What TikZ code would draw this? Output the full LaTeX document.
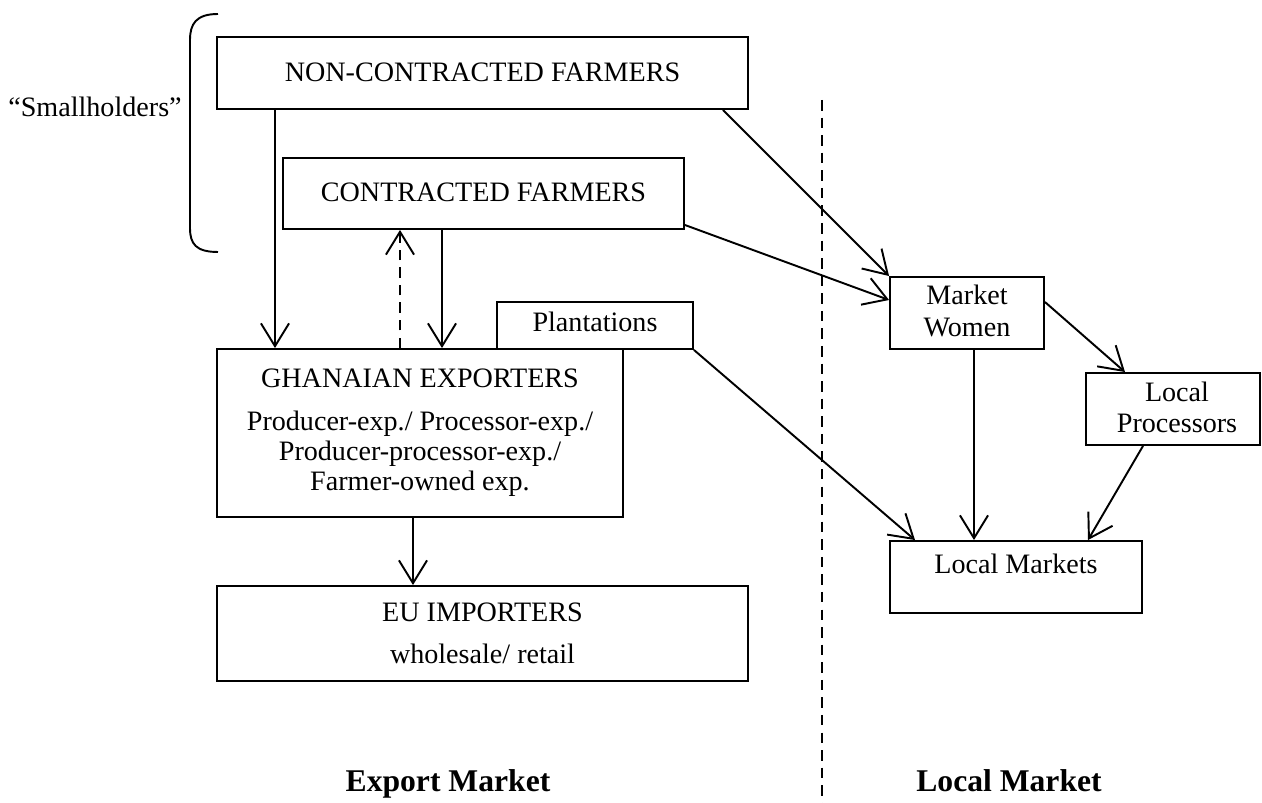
\documentclass[tikz,border=0pt]{standalone}
\usepackage{fontspec}
\setmainfont{Liberation Serif}
\usepackage{tikz}
\usetikzlibrary{arrows.meta}
\tikzset{
  box/.style={draw, line width=1.1pt, rectangle, inner sep=0pt},
  lbl/.style={font=\fontsize{16}{19}\selectfont, anchor=base, inner sep=0pt},
  head/.style={font=\fontsize{18}{21}\selectfont\bfseries, anchor=base, inner sep=0pt},
  arr/.style={line width=1.1pt, -{Straight Barb[length=13pt,width=16pt,line width=1.1pt]}},
  darr/.style={arr, dash pattern=on 6pt off 4pt},
  divider/.style={line width=1pt, dash pattern=on 6pt off 4pt}
}

\begin{document}
\begin{tikzpicture}[x=0.02cm, y=-0.02cm]
  \useasboundingbox (0,0) rectangle (1262,803);

  % boxes
  \node[box, minimum width=10.62cm, minimum height=1.44cm] (ncf) at (482.5,73) {};
  \node[box, minimum width=8.02cm, minimum height=1.42cm] (cf) at (483.5,193.5) {};
  \node[box, minimum width=8.12cm, minimum height=3.36cm] (ge) at (420,433) {};
  \node[box, minimum width=3.92cm, minimum height=0.94cm] (pl) at (595,325.5) {};
  \node[box, minimum width=10.62cm, minimum height=1.9cm] (eu) at (482.5,633.5) {};
  \node[box, minimum width=3.08cm, minimum height=1.44cm] (mw) at (967,313) {};
  \node[box, minimum width=3.48cm, minimum height=1.44cm] (lp) at (1173,409) {};
  \node[box, minimum width=5.04cm, minimum height=1.44cm] (lm) at (1016,577) {};

  % texts
  \node[lbl] (ncftxt) at (482.5,82) {NON-CONTRACTED FARMERS};
  \node[lbl] (cftxt) at (483.5,202) {CONTRACTED FARMERS};
  \node[lbl] (pltxt) at (595,332) {Plantations};
  \node[lbl] (getxt) at (420,388) {GHANAIAN EXPORTERS};
  \node[lbl] (getxta) at (420,431) {Producer-exp./ Processor-exp./};
  \node[lbl] (getxtb) at (420,461) {Producer-processor-exp./};
  \node[lbl] (getxtc) at (420,491) {Farmer-owned exp.};
  \node[lbl] (eutxt) at (482.5,622) {EU IMPORTERS};
  \node[lbl] (eutxta) at (482.5,664) {wholesale/ retail};
  \node[lbl] (mwtxt) at (967,305) {Market};
  \node[lbl] (mwtxta) at (967,337) {Women};
  \node[lbl] (lptxt) at (1177,402) {Local};
  \node[lbl] (lptxta) at (1177,433) {Processors};
  \node[lbl] (lmtxt) at (1016,574) {Local Markets};
  \node[lbl] (small) at (95,117) {``Smallholders''};
  \node[head] (export) at (448,792) {Export Market};
  \node[head] (local) at (1009,792) {Local Market};

  % brace round the farmers
  \draw[line width=1.1pt] (218,14) .. controls (196,14) and (190,24) .. (190,40)
    -- (190,228) .. controls (190,244) and (196,252) .. (218,252);

  % export / local divide
  \draw[divider] (822,100) -- (822,803);

  % flows
  \draw[arr] (275,0 |- ncf.south) -- (275,0 |- ge.north);
  \draw[arr] (442,0 |- cf.south) -- (442,0 |- ge.north);
  \draw[darr] (400,0 |- ge.north) -- (400,0 |- cf.south);
  \draw[arr] (413,0 |- ge.south) -- (413,0 |- eu.north);
  \draw[arr] (723,0 |- ncf.south) -- (mw.north west);
  \draw[arr] (cf.east |- 0,225) -- (mw.west |- 0,300);
  \draw[arr] (pl.south east) -- (915,0 |- lm.north);
  \draw[arr] (974,0 |- mw.south) -- (974,0 |- lm.north);
  \draw[arr] (mw.east |- 0,302) -- (1125,0 |- lp.north);
  \draw[arr] (1143,0 |- lp.south) -- (1088,0 |- lm.north);
\end{tikzpicture}
\end{document}
